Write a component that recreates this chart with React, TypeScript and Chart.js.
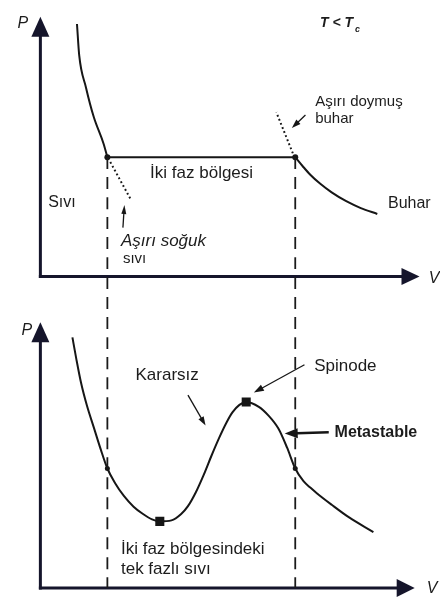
import { useEffect, useRef } from 'react';
import { Chart, registerables } from 'chart.js';

Chart.register(...registerables);

// Coexistence: saturation pressure and the liquid / vapour volumes (both panels)
const P_SAT = 4.88;
const V_LIQ = 0.69;
const V_GAS = 2.625;
// Distance, in P units, between the origin of the upper and the lower panel
const PANEL_OFFSET = 12.72;

// Upper panel: real isotherm with the flat two-phase segment
const liquidV = [0.377, 0.4, 0.47, 0.55, 0.65, V_LIQ];
const liquidP = [10.32, 9.04, 7.72, 6.52, 5.44, P_SAT];
const vaporV = [V_GAS, 2.7, 2.78, 2.88, 3.0, 3.15, 3.3, 3.47];
const vaporP = [P_SAT, 4.52, 4.16, 3.8, 3.44, 3.08, 2.8, 2.56];
const subcooledV = [0.72, 0.93];
const subcooledP = [4.68, 3.16];
const supersatV = [2.6, 2.43];
const supersatP = [5.04, 6.72];

// Lower panel: van der Waals loop
const loopV = [
  0.33, 0.37, 0.42, 0.48, 0.55, 0.62, V_LIQ, 0.77, 0.86, 0.96, 1.05, 1.15, 1.23,
  1.35, 1.45, 1.52, 1.6, 1.68, 1.76, 1.84, 1.92, 1.98, 2.05, 2.12, 2.25, 2.35,
  2.45, 2.54, V_GAS, 2.71, 2.78, 2.85, 3.0, 3.18, 3.43,
];
const loopP = [
  10.24, 9.36, 8.36, 7.44, 6.56, 5.68, P_SAT, 4.28, 3.76, 3.32, 3.04, 2.8, 2.72,
  2.76, 3.02, 3.34, 3.9, 4.6, 5.38, 6.12, 6.78, 7.18, 7.48, 7.6, 7.4, 7.04,
  6.52, 5.74, P_SAT, 4.36, 4.1, 3.86, 3.4, 2.88, 2.28,
];
const spinodeV = [1.23, 2.12];
const spinodeP = [2.72, 7.6];

// Axis extents (where each arrowhead starts)
const TOP_AXIS_P = 9.84;
const TOP_AXIS_V = 3.73;
const BOTTOM_AXIS_P = 10.08;
const BOTTOM_AXIS_V = 3.68;

// Pointer arrows: [fromV, fromP, toV, toP]
const arrowSubcooled = [0.85, 2.0, 0.86, 2.6];
const arrowSupersat = [2.73, 6.6, 2.65, 6.3];
const arrowUnstable = [1.52, 7.88, 1.66, 6.92];
const arrowSpinode = [2.72, 9.12, 2.28, 8.16];
const arrowMetastable = [2.97, 6.36, 2.64, 6.32];

const FONT = '"Liberation Sans", Arial, Helvetica, sans-serif';
const INK = '#161616';
const AXIS_INK = '#15152b';
const TEXT_INK = '#1c1c1c';

type Label = {
  text: string;
  v: number;
  p: number;
  axis: 'yTop' | 'yBottom';
  font: string;
  align?: CanvasTextAlign;
};

const f = (size: number, style = '') => `${style} ${size}px ${FONT}`.trim();

const labels: Label[] = [
  { text: 'P', v: -0.18, p: 10.32, axis: 'yTop', font: f(16, 'italic'), align: 'center' },
  { text: 'T < T', v: 2.88, p: 10.36, axis: 'yTop', font: f(14, 'italic bold') },
  { text: 'c', v: 3.24, p: 10.08, axis: 'yTop', font: f(9, 'italic bold') },
  { text: 'Sıvı', v: 0.08, p: 3.04, axis: 'yTop', font: f(16) },
  { text: 'İki faz bölgesi', v: 1.13, p: 4.2, axis: 'yTop', font: f(17) },
  { text: 'Aşırı soğuk', v: 0.83, p: 1.44, axis: 'yTop', font: f(17, 'italic') },
  { text: 'sıvı', v: 0.85, p: 0.72, axis: 'yTop', font: f(15) },
  { text: 'Aşırı doymuş', v: 2.83, p: 7.16, axis: 'yTop', font: f(15) },
  { text: 'buhar', v: 2.83, p: 6.44, axis: 'yTop', font: f(15) },
  { text: 'Buhar', v: 3.58, p: 3.0, axis: 'yTop', font: f(16) },
  { text: 'V', v: 4.0, p: -0.08, axis: 'yTop', font: f(16, 'italic') },
  { text: 'P', v: -0.14, p: 10.52, axis: 'yBottom', font: f(16, 'italic'), align: 'center' },
  { text: 'Kararsız', v: 0.98, p: 8.68, axis: 'yBottom', font: f(17) },
  { text: 'Spinode', v: 2.82, p: 9.04, axis: 'yBottom', font: f(17) },
  { text: 'Metastable', v: 3.03, p: 6.36, axis: 'yBottom', font: f(16, 'bold') },
  { text: 'İki faz bölgesindeki', v: 0.83, p: 1.56, axis: 'yBottom', font: f(17) },
  { text: 'tek fazlı sıvı', v: 0.83, p: 0.78, axis: 'yBottom', font: f(17) },
  { text: 'V', v: 3.98, p: -0.04, axis: 'yBottom', font: f(16, 'italic') },
];

const pts = (vs: number[], ps: number[]) => vs.map((v, i) => ({ x: v, y: ps[i] }));
const seg = (a: number[]) => [
  { x: a[0], y: a[1] },
  { x: a[2], y: a[3] },
];

// Draws a filled arrowhead past the last point of any dataset carrying `arrowHead`
const arrowHeads = {
  id: 'arrowHeads',
  afterDatasetsDraw(chart: any) {
    const ctx = chart.ctx as CanvasRenderingContext2D;
    chart.data.datasets.forEach((ds: any, i: number) => {
      const head = ds.arrowHead;
      if (!head) return;
      const els = chart.getDatasetMeta(i).data;
      const a = els[els.length - 2];
      const b = els[els.length - 1];
      const ang = Math.atan2(b.y - a.y, b.x - a.x);
      ctx.save();
      ctx.translate(b.x, b.y);
      ctx.rotate(ang);
      ctx.beginPath();
      ctx.moveTo(head.length, 0);
      ctx.lineTo(-1, -head.width / 2);
      ctx.lineTo(-1, head.width / 2);
      ctx.closePath();
      ctx.fillStyle = ds.borderColor;
      ctx.fill();
      ctx.restore();
    });
  },
};

// Places the text annotations through the chart's own scales
const textLabels = {
  id: 'textLabels',
  afterDatasetsDraw(chart: any) {
    const ctx = chart.ctx as CanvasRenderingContext2D;
    ctx.save();
    ctx.fillStyle = TEXT_INK;
    ctx.textBaseline = 'middle';
    labels.forEach((l) => {
      ctx.font = l.font;
      ctx.textAlign = l.align ?? 'left';
      const x = chart.scales.x.getPixelForValue(l.v);
      const y = chart.scales[l.axis].getPixelForValue(l.p);
      ctx.fillText(l.text, x, y);
    });
    ctx.restore();
  },
};

export default function App() {
  const canvasRef = useRef<HTMLCanvasElement | null>(null);

  useEffect(() => {
    if (!canvasRef.current) return;

    const curve = (data: any[], axis: string, extra: any = {}) => ({
      data,
      yAxisID: axis,
      showLine: true,
      borderColor: INK,
      borderWidth: 2,
      pointRadius: 0,
      cubicInterpolationMode: 'monotone',
      fill: false,
      ...extra,
    });

    const axisLine = (data: any[], axis: string, len: number, width: number) =>
      curve(data, axis, {
        borderColor: AXIS_INK,
        borderWidth: 3,
        borderCapStyle: 'square',
        cubicInterpolationMode: 'default',
        arrowHead: { length: len, width },
      });

    const pointer = (a: number[], axis: string, len: number, width: number, lw = 1.3) =>
      curve(seg(a), axis, {
        borderWidth: lw,
        cubicInterpolationMode: 'default',
        arrowHead: { length: len, width },
      });

    const marks = (data: any[], axis: string, style: string, radius: number) => ({
      data,
      yAxisID: axis,
      showLine: false,
      pointStyle: style,
      pointRadius: radius,
      pointBackgroundColor: INK,
      pointBorderColor: INK,
      pointBorderWidth: 0,
    });

    const dashed = { borderDash: [12, 8], borderWidth: 1.8, borderColor: '#1a1a1a' };
    const dotted = { borderDash: [1.8, 2.6], borderWidth: 2 };

    const chart = new Chart(canvasRef.current, {
      type: 'scatter',
      data: {
        datasets: [
          // vertical dashed lines linking both panels
          curve(
            [
              { x: V_LIQ, y: P_SAT },
              { x: V_LIQ, y: -PANEL_OFFSET },
            ],
            'yTop',
            dashed,
          ),
          curve(
            [
              { x: V_GAS, y: P_SAT },
              { x: V_GAS, y: -PANEL_OFFSET },
            ],
            'yTop',
            dashed,
          ),
          // upper panel isotherm
          curve(pts(liquidV, liquidP), 'yTop'),
          curve(
            [
              { x: V_LIQ, y: P_SAT },
              { x: V_GAS, y: P_SAT },
            ],
            'yTop',
          ),
          curve(pts(vaporV, vaporP), 'yTop'),
          curve(pts(subcooledV, subcooledP), 'yTop', dotted),
          curve(pts(supersatV, supersatP), 'yTop', dotted),
          marks(pts([V_LIQ, V_GAS], [P_SAT, P_SAT]), 'yTop', 'circle', 3),
          // lower panel loop
          curve(pts(loopV, loopP), 'yBottom'),
          marks(pts([V_LIQ, V_GAS], [P_SAT, P_SAT]), 'yBottom', 'circle', 2.5),
          marks(pts(spinodeV, spinodeP), 'yBottom', 'rect', 6.4),
          // pointers
          pointer(arrowSubcooled, 'yTop', 8, 5),
          pointer(arrowSupersat, 'yTop', 8, 6),
          pointer(arrowUnstable, 'yBottom', 8, 6),
          pointer(arrowSpinode, 'yBottom', 9, 7),
          pointer(arrowMetastable, 'yBottom', 12, 10, 2.4),
          // axes
          axisLine(pts([0, 0], [0, TOP_AXIS_P]), 'yTop', 19, 18),
          axisLine(pts([0, TOP_AXIS_V], [0, 0]), 'yTop', 17, 17),
          axisLine(pts([0, 0], [0, BOTTOM_AXIS_P]), 'yBottom', 19, 18),
          axisLine(pts([0, BOTTOM_AXIS_V], [0, 0]), 'yBottom', 17, 18),
        ] as any,
      },
      options: {
        animation: false,
        responsive: false,
        maintainAspectRatio: false,
        layout: { padding: 0 },
        events: [],
        plugins: {
          legend: { display: false },
          tooltip: { enabled: false },
          title: { display: false },
        },
        scales: {
          x: { type: 'linear', min: -0.35, max: 4.05, display: false },
          yTop: { type: 'linear', position: 'left', min: -13.36, max: 11.04, display: false },
          yBottom: { type: 'linear', position: 'left', min: -0.64, max: 23.76, display: false },
        },
      },
      plugins: [arrowHeads, textLabels],
    });

    return () => chart.destroy();
  }, []);

  return (
    <div style={{ position: 'absolute', left: 0, top: 0, width: 440, height: 610, background: '#fff' }}>
      <canvas ref={canvasRef} width={440} height={610} style={{ display: 'block' }} />
    </div>
  );
}
